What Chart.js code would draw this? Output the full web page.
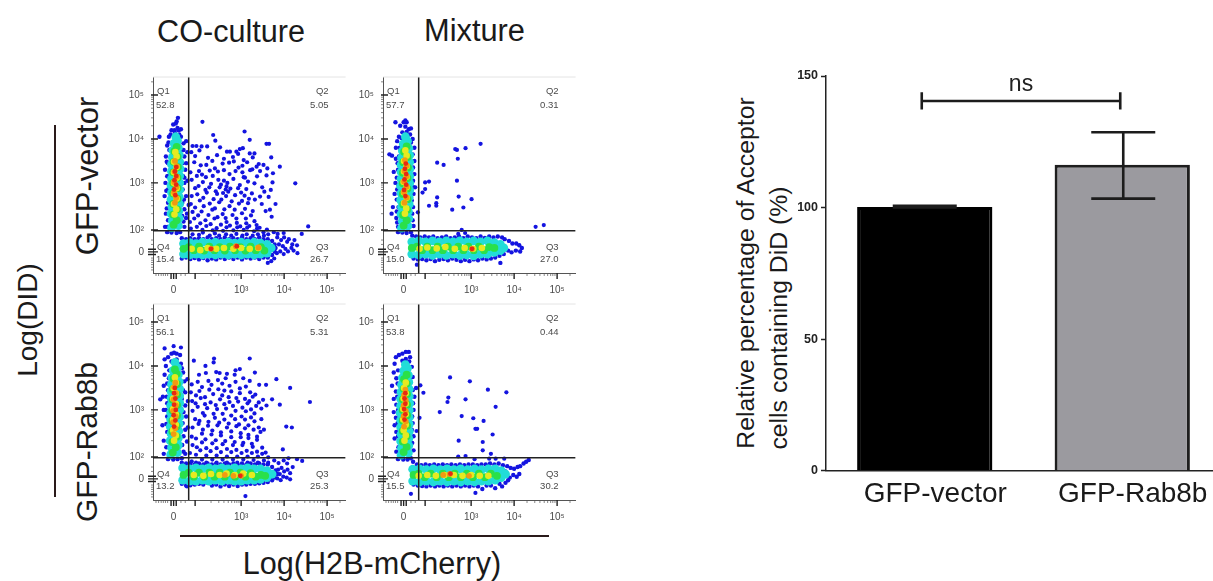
<!DOCTYPE html>
<html><head><meta charset="utf-8">
<script src="https://cdn.jsdelivr.net/npm/chart.js@4"></script>
<style>
html,body{margin:0;padding:0;background:#fff;width:1213px;height:581px;overflow:hidden;position:relative;font-family:"Liberation Sans",Arial,sans-serif;color:#1a1a1a}
canvas{position:absolute;display:block;filter:blur(.45px)}
.t{position:absolute;white-space:nowrap;line-height:1;transform:translate(-50%,-50%)}
.r{transform:translate(-50%,-50%) rotate(-90deg)}
.l{position:absolute;background:#2a1a1a}
</style></head><body>
<div class="t" style="left:231px;top:31px;font-size:30.6px">CO-culture</div>
<div class="t" style="left:474.5px;top:31px;font-size:30.8px">Mixture</div>
<div class="t r" style="left:87px;top:176px;font-size:31px">GFP-vector</div>
<div class="t r" style="left:87px;top:442px;font-size:30px">GFP-Rab8b</div>
<div class="t r" style="left:28px;top:320px;font-size:28px">Log(DID)</div>
<div class="t" style="left:372px;top:563px;font-size:30.6px">Log(H2B-mCherry)</div>
<div class="t r" style="left:746px;top:273px;font-size:24.8px">Relative percentage of Acceptor</div>
<div class="t r" style="left:779px;top:318px;font-size:24.8px">cells containing DiD (%)</div>
<div class="l" style="left:54px;top:125px;width:2px;height:372px"></div>
<div class="l" style="left:180px;top:535px;width:369px;height:2px"></div>
<canvas id="c1" style="left:120px;top:70px"></canvas>
<canvas id="c2" style="left:350px;top:70px"></canvas>
<canvas id="c3" style="left:120px;top:297px"></canvas>
<canvas id="c4" style="left:350px;top:297px"></canvas>
<canvas id="bar" style="left:730px;top:60px"></canvas>
<script>
// ---- flow axes (log-decade display units; 0 sits at 1.43)
const flowTicks=[1.43,1.93,3,4,5];
const flowXLabels=['0','','10³','10⁴','10⁵'];
const flowYLabels=['0','10²','10³','10⁴','10⁵'];
const flowMin=0.95, flowMaxX=5.43, flowMaxY=5.41;
const gateX=1.78, gateY=1.91;
const minorTicks=[2.3,2.48,2.6,2.7,2.78,2.85,2.9,2.95,3.3,3.48,3.6,3.7,3.78,3.85,3.9,3.95,4.3,4.48,4.6,4.7,4.78,4.85,4.9,4.95,5.3];
const zeroTicks=[1.02,1.08,1.14,1.19,1.24,1.29,1.6,1.7];
const thickTicks=[1.37,1.43,1.49];
// ---- gate statistics
const stats1=['52.8','5.05','26.7','15.4'], stats2=['57.7','0.31','27.0','15.0'], stats3=['56.1','5.31','25.3','13.2'], stats4=['53.8','0.44','30.2','15.5'];

// ---- plot 1
const p1Sparse=[[2.1,4.39],[2.35,4.09],[2.4,3.96],[3.08,4.17],[3.2,3.98],[3.59,3.89],[3.65,3.89],[1.87,3.84],[1.96,3.84],[2.08,3.83],[2.21,3.83],[2.51,3.81],[3.04,3.79],[2.97,3.77],[2.89,3.71],[2.67,3.71],[2.74,3.71],[3.2,3.67],[3.31,3.67],[3.7,3.58],[3.9,3.37],[4.26,2.99],[4.56,2.01],[4.41,1.84],
[1.84,3.7],[1.93,3.61],[2.03,3.74],[2.23,3.57],[2.44,3.63],[2.6,3.55],[2.81,3.59],[2.93,3.66],[3.06,3.52],[3.27,3.58],[3.41,3.43],[3.52,3.41],[3.61,3.33],
[1.91,3.47],[2.06,3.4],[2.19,3.41],[2.33,3.5],[2.39,3.33],[2.57,3.44],[2.72,3.46],[2.83,3.49],[2.94,3.35],[3.03,3.39],[3.14,3.47],[3.26,3.31],[3.36,3.37],[3.59,3.17],[3.74,3.22],
[1.82,3.24],[2.02,3.27],[2.09,3.19],[2.27,3.28],[2.34,3.16],[2.46,3.26],[2.6,3.29],[2.73,3.2],[2.87,3.27],[3.03,3.24],[3.09,3.12],[3.21,3.29],[3.37,3.15],[3.44,3.27],
[1.85,3.07],[1.97,3.16],[2.11,3.02],[2.18,3.13],[2.3,2.98],[2.47,3.07],[2.53,2.96],[2.6,3.05],[2.66,2.92],[2.68,3.0],[2.82,3.09],[2.97,2.95],[3.06,3.13],[3.16,3.03],[3.31,2.99],[3.49,2.9],[3.73,3.01],
[1.93,2.88],[2.01,2.93],[2.17,2.84],[2.26,2.9],[2.41,2.81],[2.5,2.9],[2.58,2.77],[2.64,2.85],[2.7,2.8],[2.75,2.87],[2.93,2.88],[3.0,2.78],[3.12,2.86],[3.25,2.76],[3.44,2.69],[3.54,2.8],[3.69,2.84],
[1.85,2.7],[1.98,2.74],[2.12,2.66],[2.2,2.78],[2.36,2.63],[2.44,2.75],[2.54,2.62],[2.65,2.7],[2.78,2.58],[2.86,2.72],[3.02,2.59],[3.08,2.71],[3.18,2.64],[3.32,2.62],[3.48,2.52],[3.64,2.68],[3.8,2.52],
[1.83,2.52],[1.93,2.44],[2.04,2.6],[2.13,2.47],[2.27,2.53],[2.39,2.42],[2.49,2.56],[2.61,2.4],[2.73,2.47],[2.85,2.39],[2.95,2.53],[3.09,2.41],[3.16,2.54],[3.27,2.36],[3.57,2.36],[3.67,2.39],[3.71,2.23],
[1.87,2.34],[2,2.26],[2.08,2.35],[2.24,2.27],[2.33,2.39],[2.45,2.22],[2.57,2.29],[2.64,2.2],[2.8,2.27],[2.89,2.19],[3.02,2.31],[3.11,2.19],[3.23,2.26],[3.31,2.13],
[1.81,2.11],[1.91,2.19],[2.05,2.08],[2.17,2.15],[2.29,2.06],[2.38,2.19],[2.53,2.05],[2.66,2.11],[2.74,2.03],[2.9,2.09],[2.98,2.01],[3.12,2.08],[3.19,2.02],[3.36,2.04],[3.43,1.98],
[1.83,1.96],[1.97,2],[2.1,1.93],[2.19,2.02],[2.34,1.92],[2.43,1.97],[2.58,1.91],[2.66,1.99],[2.82,1.92],[2.91,1.99],[3.06,1.93],[3.14,1.98],[3.3,1.9],[3.37,1.96],[3.52,1.88],[3.6,1.94],[3.76,1.88],[3.85,1.84],[3.99,1.86],
[1.87,1.83],[2.02,1.82],[2.11,1.87],[2.27,1.8],[2.39,1.85],[2.49,1.8],[2.65,1.83],[2.77,1.8],[2.89,1.84],[3.03,1.8],[3.13,1.83],[3.27,1.8],[3.39,1.83],[3.53,1.8],[3.63,1.83],
[3.84,1.76],[3.93,1.7],[4,1.76],[4.07,1.66],[4.11,1.72],[4.19,1.6],[4.24,1.7],[4.3,1.58],[3.88,1.6],[3.97,1.56],[4.03,1.5],[4.09,1.44],[4.17,1.52],[4.22,1.46],[4.31,1.4],[3.91,1.44],[3.83,1.4],[3.99,1.38],[3.77,1.28],[3.7,1.22],[3.62,1.18]];
const p1Blue=[[1.23,2],[1.25,2.3],[1.22,2.7],[1.24,3],[1.23,3.3],[1.25,3.6],[1.28,3.85],[1.32,4.05],[1.38,4.2],[1.45,4.2],[1.52,4.25],[1.55,4.2],[1.6,4.05],[1.66,3.9],[1.68,3.6],[1.7,3.3],[1.68,3],[1.72,2.7],[1.68,2.4],[1.72,2.2],[1.68,2],[1.28,1.88],[1.38,1.87],[1.5,1.86],[1.58,1.88],[1.1,4.05],[1.42,4.33],[1.5,4.4],[1.53,4.48],[1.48,4.35],[1.6,4.22],[1.3,2.55],[1.3,2.85],[1.3,3.15],[1.3,3.45],[1.33,3.75],[1.3,2.15],[1.63,2.25],[1.63,2.55],[1.64,2.85],[1.65,3.15],[1.63,3.45],[1.6,3.75],[1.72,3.95],[1.75,3.7],[1.78,2.5],[1.75,3.05],[1.72,3.45],[1.74,2.3],[1.27,2.42],[1.26,2.82],[1.28,3.15],[1.27,3.48],[1.31,3.92],[1.66,2.12],[1.67,2.62],[1.68,3.12],[1.66,3.75],[1.36,4.1],[1.46,4.14],[1.56,4.1],[1.29,2],
[1.62,1.74],[1.72,1.72],[1.82,1.74],[1.92,1.72],[2.02,1.74],[2.12,1.72],[2.22,1.76],[2.32,1.72],[2.42,1.74],[2.52,1.72],[2.62,1.76],[2.72,1.72],[2.82,1.74],[2.92,1.72],[3.02,1.76],[3.12,1.72],[3.22,1.74],[3.32,1.72],[3.42,1.76],[3.52,1.72],[3.62,1.72],[3.72,1.68],[3.78,1.6],
[1.62,1.28],[1.72,1.3],[1.82,1.27],[1.92,1.29],[2.02,1.26],[2.12,1.29],[2.22,1.24],[2.32,1.28],[2.42,1.26],[2.52,1.3],[2.62,1.27],[2.72,1.3],[2.82,1.27],[2.92,1.3],[3.02,1.26],[3.12,1.3],[3.22,1.28],[3.32,1.3],[3.42,1.27],[3.52,1.3],[3.62,1.3],[3.72,1.36],[3.78,1.44],[1.62,1.5],[3.8,1.52]];
const p1Cyan=[[1.38,1.98],[1.54,2.03],[1.4,2.14],[1.56,2.2],[1.37,2.3],[1.55,2.36],[1.39,2.46],[1.57,2.52],[1.37,2.62],[1.56,2.68],[1.38,2.78],[1.57,2.84],[1.37,2.94],[1.57,3],[1.38,3.1],[1.57,3.16],[1.38,3.26],[1.58,3.32],[1.38,3.42],[1.57,3.48],[1.4,3.58],[1.56,3.64],[1.41,3.74],[1.54,3.8],[1.44,3.9],[1.52,3.96],[1.48,4.05],
[1.66,1.62],[1.8,1.64],[1.95,1.62],[2.1,1.65],[2.25,1.63],[2.4,1.65],[2.55,1.63],[2.7,1.65],[2.85,1.63],[3,1.65],[3.15,1.63],[3.3,1.65],[3.45,1.63],[3.6,1.6],[3.7,1.52],
[1.66,1.38],[1.8,1.36],[1.95,1.38],[2.1,1.36],[2.25,1.38],[2.4,1.36],[2.55,1.38],[2.7,1.36],[2.85,1.38],[3,1.36],[3.15,1.38],[3.3,1.36],[3.45,1.38],[3.6,1.4],[3.65,1.5]];
const p1Green=[[1.43,2.05],[1.5,2.15],[1.42,2.28],[1.51,2.4],[1.42,2.52],[1.52,2.64],[1.42,2.76],[1.52,2.88],[1.42,3],[1.52,3.12],[1.42,3.24],[1.53,3.36],[1.43,3.48],[1.52,3.6],[1.45,3.72],[1.5,3.82],
[1.66,1.5],[1.78,1.54],[1.9,1.47],[2.02,1.55],[2.14,1.46],[2.26,1.55],[2.38,1.47],[2.5,1.54],[2.62,1.46],[2.74,1.55],[2.86,1.47],[2.98,1.54],[3.1,1.46],[3.22,1.55],[3.34,1.47],[3.46,1.54],[3.54,1.46]];
const p1Yellow=[[1.45,2.28],[1.49,2.4],[1.44,2.52],[1.5,2.64],[1.44,2.76],[1.5,2.88],[1.44,3],[1.5,3.12],[1.44,3.24],[1.5,3.36],[1.44,3.48],[1.5,3.6],[1.47,3.7],
[1.85,1.5],[2.05,1.47],[2.22,1.52],[2.42,1.5],[2.6,1.52],[2.82,1.5],[3.0,1.52],[3.2,1.5],[3.4,1.52]];
const p1Orange=[[1.46,2.55],[1.49,2.66],[1.44,2.78],[1.49,2.9],[1.44,3.02],[1.5,3.14],[1.45,3.26],[1.5,3.38],[1.46,3.5],[2.3,1.5],[2.88,1.56],[3.4,1.53]];
const p1Red=[[1.47,2.72],[1.44,2.85],[1.49,2.96],[1.45,3.06],[1.49,3.16],[1.46,3.26],[1.49,3.36],[2.3,1.5],[2.9,1.56]];
// ---- plot 2
const p2Sparse=[[2.63,3.77],[2.67,3.75],[2.87,3.79],[3.22,3.89],[2.69,3.55],[2.21,3.46],[2.36,3.41],[2.67,3.05],[1.93,3.01],[2.02,3.03],[1.93,2.86],[1.87,2.78],[1.7,2.9],[2.21,2.67],[2.71,2.69],[3.01,2.63],[2.02,2.48],[2.19,2.54],[2.19,2.48],[2.82,2.44],[2.56,2.39],[1.76,2.33],[4.5,2],[4.69,2.04],[2.78,1.93],[2.7,1.84],[2.86,1.86]];
const p2Blue=[[1.24,4.38],[1.43,4.38],[1.47,4.42],[1.5,4.38],[1.35,4.3],[1.55,4.22],[1.6,4.24],[1.47,4.28],[1.4,4.15],[1.32,4.05],[1.58,4.1],[1.64,4],[1.1,3.65],[1.16,3.62],[1.25,3.8],[1.28,3.95],[1.25,3.55],[1.2,3.25],[1.24,3.0],[1.22,2.75],[1.18,2.45],[1.15,2.3],[1.27,2.62],[1.26,2.2],[1.3,2],[1.3,1.88],[1.4,1.87],[1.5,1.86],[1.6,1.88],[1.66,2.02],[1.63,2.3],[1.62,2.6],[1.66,2.9],[1.68,3.2],[1.68,3.5],[1.68,3.8],[1.32,3.6],[1.3,3.3],[1.31,2.95],[1.31,2.45],[1.28,2.1],[1.27,2.35],[1.28,2.85],[1.27,3.12],[1.29,3.45],[1.34,3.8],[1.38,4.02],[1.5,4.16],[1.64,2.15],[1.65,2.45],[1.66,2.75],[1.65,3.05],[1.65,3.35],[1.64,3.65],[1.6,3.92],
[1.63,1.8],[1.72,1.78],[1.82,1.76],[1.92,1.78],[2.02,1.76],[2.12,1.78],[2.22,1.74],[2.32,1.76],[2.42,1.78],[2.52,1.74],[2.62,1.76],[2.72,1.78],[2.82,1.74],[2.92,1.78],[3.02,1.76],[3.12,1.74],[3.22,1.78],[3.32,1.75],[3.42,1.78],[3.52,1.76],[3.62,1.78],[3.72,1.76],[3.78,1.72],[3.88,1.68],[3.96,1.62],[4.05,1.62],[4.12,1.58],[4.18,1.52],[4.14,1.44],[4.04,1.46],[3.94,1.42],[3.86,1.46],
[1.66,1.28],[1.76,1.26],[1.86,1.27],[1.96,1.24],[2.06,1.27],[2.16,1.22],[2.26,1.25],[2.36,1.27],[2.46,1.24],[2.56,1.28],[2.66,1.25],[2.76,1.22],[2.86,1.25],[2.96,1.22],[3.06,1.26],[3.16,1.24],[3.26,1.28],[3.36,1.26],[3.46,1.28],[3.56,1.3],[3.66,1.34],[3.76,1.38],[1.74,1.14],[3.68,1.18]];
const p2Cyan=[[1.38,1.97],[1.53,2.02],[1.4,2.13],[1.55,2.19],[1.37,2.29],[1.54,2.35],[1.38,2.45],[1.56,2.51],[1.36,2.61],[1.56,2.67],[1.37,2.77],[1.57,2.83],[1.36,2.93],[1.57,2.99],[1.37,3.09],[1.57,3.15],[1.37,3.25],[1.57,3.31],[1.37,3.41],[1.57,3.47],[1.38,3.57],[1.57,3.63],[1.4,3.73],[1.55,3.79],[1.42,3.89],[1.52,3.95],[1.47,4.05],
[1.62,1.66],[1.78,1.68],[1.94,1.66],[2.1,1.68],[2.26,1.66],[2.42,1.68],[2.58,1.66],[2.74,1.68],[2.9,1.66],[3.06,1.68],[3.22,1.66],[3.38,1.68],[3.54,1.64],[3.68,1.6],[3.76,1.52],
[1.62,1.38],[1.78,1.36],[1.94,1.38],[2.1,1.35],[2.26,1.38],[2.42,1.35],[2.58,1.38],[2.74,1.35],[2.9,1.36],[3.06,1.34],[3.22,1.38],[3.38,1.38],[3.54,1.42],[3.68,1.46]];
const p2Green=[[1.43,2.03],[1.5,2.15],[1.42,2.27],[1.51,2.39],[1.42,2.51],[1.52,2.63],[1.41,2.75],[1.52,2.87],[1.41,2.99],[1.52,3.11],[1.41,3.23],[1.53,3.35],[1.42,3.47],[1.52,3.59],[1.44,3.71],[1.5,3.83],
[1.62,1.52],[1.74,1.55],[1.86,1.47],[1.98,1.55],[2.1,1.47],[2.22,1.55],[2.34,1.47],[2.46,1.55],[2.58,1.47],[2.7,1.55],[2.82,1.47],[2.94,1.55],[3.06,1.47],[3.18,1.55],[3.3,1.47],[3.42,1.54],[3.54,1.52]];
const p2Yellow=[[1.46,2.3],[1.49,2.42],[1.44,2.54],[1.5,2.66],[1.44,2.78],[1.5,2.9],[1.43,3.02],[1.5,3.14],[1.44,3.26],[1.5,3.38],[1.44,3.5],[1.5,3.62],[1.47,3.74],
[1.8,1.5],[1.98,1.53],[2.2,1.51],[2.4,1.54],[2.62,1.5],[2.85,1.52],[3.05,1.5],[3.25,1.52]];
const p2Orange=[[1.45,2.55],[1.5,2.67],[1.44,2.79],[1.5,2.91],[1.44,3.03],[1.5,3.15],[1.45,3.27],[1.5,3.39],[1.46,3.52],[3.02,1.5]];
const p2Red=[[1.47,2.7],[1.44,2.84],[1.49,2.96],[1.45,3.08],[1.49,3.2],[1.46,3.32],[1.48,3.44],[3.02,1.5]];
// ---- plot 3
const p3Sparse=[[1.22,4.4],[1.43,4.45],[1.6,4.42],[1.9,4.12],[2.17,4],[2.37,4.17],[2.36,4.08],[3.2,4.17],[2.87,3.9],[2.97,3.93],[3.32,3.85],[2.02,3.8],[2.18,3.84],[2.42,3.86],[2.5,3.84],[2.67,3.82],[2.85,3.8],[3.05,3.72],[3.2,3.66],[3.42,3.57],[3.58,3.57],[3.82,3.7],[4.14,3.5],[4.6,3.18],[3.72,3.24],[3.9,3.12],[4.05,2.62],[4.18,2.6],[3.97,2.1],[4.42,1.84],[4.3,1.88],[4.1,1.9],
[1.85,3.58],[1.99,3.64],[2.09,3.52],[2.24,3.66],[2.31,3.57],[2.46,3.68],[2.56,3.6],[2.64,3.72],[2.73,3.55],[2.87,3.64],[2.97,3.49],[3.11,3.53],[3.21,3.4],[3.33,3.35],[3.51,3.23],
[1.83,3.4],[1.95,3.33],[2.03,3.43],[2.16,3.29],[2.26,3.46],[2.35,3.36],[2.47,3.47],[2.56,3.33],[2.61,3.44],[2.71,3.29],[2.77,3.42],[2.89,3.27],[2.97,3.38],[3.09,3.25],[3.19,3.2],[3.27,3.3],[3.41,3.17],[3.47,3.03],[3.59,3.1],
[1.86,3.2],[1.94,3.15],[2.06,3.27],[2.16,3.13],[2.29,3.17],[2.41,3.11],[2.51,3.24],[2.61,3.13],[2.73,3.18],[2.81,3.09],[2.93,3.19],[3.03,3.05],[3.15,3.15],[3.23,3.01],[3.35,3.09],
[1.87,2.98],[1.99,3.07],[2.11,2.93],[2.21,3.04],[2.36,2.91],[2.44,3.02],[2.57,2.91],[2.65,3.03],[2.77,2.87],[2.87,2.98],[3.01,2.85],[3.11,2.97],[3.23,2.83],[3.31,2.92],[3.47,2.79],
[1.93,2.79],[2.03,2.75],[2.15,2.87],[2.24,2.73],[2.39,2.82],[2.49,2.71],[2.61,2.78],[2.71,2.69],[2.86,2.79],[2.95,2.67],[3.09,2.78],[3.17,2.65],[3.31,2.74],[3.41,2.6],[3.53,2.55],
[1.87,2.6],[2.01,2.68],[2.11,2.55],[2.23,2.64],[2.33,2.53],[2.45,2.65],[2.53,2.49],[2.67,2.6],[2.77,2.51],[2.89,2.63],[2.99,2.47],[3.09,2.58],[3.17,2.43],[3.29,2.55],[3.37,2.39],[3.45,2.5],
[1.85,2.39],[1.95,2.35],[2.09,2.46],[2.17,2.33],[2.31,2.44],[2.41,2.31],[2.53,2.42],[2.63,2.29],[2.77,2.38],[2.85,2.27],[2.99,2.38],[3.05,2.25],[3.17,2.36],[3.25,2.23],[3.37,2.32],
[1.87,2.2],[1.97,2.15],[2.09,2.26],[2.19,2.13],[2.33,2.24],[2.43,2.13],[2.57,2.22],[2.67,2.11],[2.81,2.2],[2.89,2.09],[3.03,2.2],[3.13,2.07],[3.27,2.16],[3.37,2.05],[3.49,2.14],[3.57,2.03],
[1.81,2.02],[1.95,1.98],[2.05,2.08],[2.19,1.96],[2.29,2.06],[2.43,1.96],[2.53,2.04],[2.67,1.94],[2.77,2.04],[2.91,1.94],[3.01,2.02],[3.15,1.94],[3.25,2.02],[3.39,1.94],[3.49,2],[3.63,1.92],
[1.85,1.83],[1.95,1.8],[2.09,1.87],[2.19,1.8],[2.33,1.87],[2.43,1.8],[2.57,1.87],[2.67,1.8],[2.81,1.87],[2.91,1.8],[3.05,1.87],[3.15,1.8],[3.29,1.86],[3.39,1.8],[3.53,1.85],[3.63,1.8],[3.77,1.85],[3.87,1.79],[3.99,1.85],[4.07,1.78],
[3.86,1.64],[3.94,1.68],[4,1.6],[4.08,1.64],[4.14,1.56],[4.2,1.7],[3.9,1.54],[3.98,1.48],[4.06,1.46],[4.14,1.42],[3.84,1.44],[3.92,1.4],[3.1,1.04],[1.74,1.26],[1.82,1.28]];
const p3Blue=[[1.2,2],[1.2,2.3],[1.17,2.65],[1.2,3],[1.18,3.3],[1.12,3.24],[1.2,3.55],[1.22,3.8],[1.25,4.0],[1.22,4.15],[1.3,4.2],[1.38,4.28],[1.44,4.3],[1.5,4.28],[1.58,4.25],[1.6,4.05],[1.65,3.85],[1.68,3.65],[1.7,3.4],[1.7,3.1],[1.72,2.85],[1.7,2.55],[1.74,2.28],[1.7,2],[1.3,1.88],[1.42,1.87],[1.52,1.88],[1.62,1.9],[1.28,2.5],[1.28,2.85],[1.28,3.15],[1.3,3.45],[1.32,3.72],[1.63,2.2],[1.64,2.7],[1.62,3.25],[1.6,3.65],[1.75,3.7],[1.76,3.2],[1.76,2.6],[1.26,2.15],[1.26,2.68],[1.25,3],[1.27,3.3],[1.28,3.6],[1.33,3.9],[1.38,4.1],[1.5,4.15],[1.62,3.95],[1.65,3.45],[1.66,2.95],[1.66,2.4],[1.66,2.05],
[1.62,1.8],[1.72,1.78],[1.82,1.78],[1.92,1.76],[2.02,1.78],[2.12,1.76],[2.22,1.78],[2.32,1.76],[2.42,1.78],[2.52,1.76],[2.62,1.78],[2.72,1.76],[2.82,1.78],[2.92,1.76],[3.02,1.78],[3.12,1.76],[3.22,1.78],[3.32,1.76],[3.42,1.78],[3.52,1.76],[3.62,1.76],[3.72,1.7],[3.8,1.62],[3.84,1.54],
[1.62,1.32],[1.72,1.28],[1.82,1.3],[1.92,1.3],[2.02,1.32],[2.12,1.3],[2.22,1.34],[2.32,1.28],[2.42,1.3],[2.52,1.26],[2.62,1.3],[2.72,1.27],[2.82,1.3],[2.92,1.27],[3.02,1.3],[3.12,1.3],[3.22,1.32],[3.32,1.32],[3.42,1.33],[3.52,1.34],[3.62,1.36],[3.72,1.4],[3.78,1.46]];
const p3Cyan=[[1.36,1.98],[1.52,2.03],[1.38,2.14],[1.54,2.2],[1.35,2.3],[1.54,2.36],[1.37,2.46],[1.55,2.52],[1.35,2.62],[1.56,2.68],[1.36,2.78],[1.57,2.84],[1.36,2.94],[1.57,3],[1.36,3.1],[1.57,3.16],[1.37,3.26],[1.57,3.32],[1.37,3.42],[1.57,3.48],[1.38,3.58],[1.56,3.64],[1.39,3.74],[1.54,3.8],[1.42,3.9],[1.52,3.96],[1.46,4.08],
[1.64,1.68],[1.8,1.66],[1.95,1.68],[2.1,1.66],[2.25,1.68],[2.4,1.66],[2.55,1.68],[2.7,1.66],[2.85,1.68],[3,1.66],[3.15,1.68],[3.3,1.66],[3.45,1.66],[3.6,1.62],[3.72,1.54],
[1.64,1.4],[1.8,1.38],[1.95,1.38],[2.1,1.4],[2.25,1.38],[2.4,1.4],[2.55,1.38],[2.7,1.4],[2.85,1.38],[3,1.38],[3.15,1.4],[3.3,1.4],[3.45,1.42],[3.6,1.46]];
const p3Green=[[1.41,2.03],[1.48,2.15],[1.4,2.27],[1.5,2.39],[1.4,2.51],[1.5,2.63],[1.4,2.75],[1.51,2.87],[1.4,2.99],[1.51,3.11],[1.41,3.23],[1.51,3.35],[1.41,3.47],[1.51,3.59],[1.43,3.71],[1.5,3.82],[1.46,3.92],
[1.66,1.52],[1.78,1.57],[1.9,1.48],[2.02,1.57],[2.14,1.48],[2.26,1.57],[2.38,1.48],[2.5,1.57],[2.62,1.48],[2.74,1.57],[2.86,1.48],[2.98,1.57],[3.1,1.48],[3.22,1.56],[3.34,1.48],[3.46,1.52],[3.56,1.5]];
const p3Yellow=[[1.44,2.3],[1.48,2.42],[1.42,2.54],[1.48,2.66],[1.42,2.78],[1.48,2.9],[1.42,3.02],[1.48,3.14],[1.42,3.26],[1.48,3.38],[1.43,3.5],[1.48,3.62],[1.46,3.74],
[1.9,1.52],[2.12,1.5],[2.3,1.54],[2.5,1.52],[2.66,1.55],[2.85,1.52],[3.05,1.55],[3.25,1.52]];
const p3Orange=[[1.43,2.45],[1.47,2.58],[1.42,2.72],[1.48,2.85],[1.42,2.98],[1.48,3.1],[1.43,3.24],[1.48,3.38],[1.44,3.52],[1.47,3.62],[2.62,1.52],[2.82,1.5],[3.0,1.5]];
const p3Red=[[1.44,2.62],[1.47,2.76],[1.43,2.88],[1.48,3.0],[1.44,3.12],[1.47,3.26],[1.44,3.38],[1.46,3.5],[2.98,1.5]];
// ---- plot 4
const p4Sparse=[[2.51,3.74],[2.97,3.65],[3.39,3.46],[3.82,3.4],[1.89,3.39],[2.47,3.28],[2.45,3.18],[2.87,3.24],[3.57,3.07],[2.27,2.95],[2.78,2.86],[3.05,2.81],[3.29,2.75],[3.1,2.57],[3.14,2.57],[3.5,2.44],[2.71,2.3],[3.27,2.27],[3.27,2.08],[3.46,2],[1.73,2.52],[1.8,2.82],[1.82,3.56],[2.7,1.94],[2.87,1.95],[3.08,1.88],[3.42,1.89],[3.57,1.89],[3.77,1.89],[1.6,1.09],[3.1,1.11]];
const p4Blue=[[1.25,4.2],[1.32,4.25],[1.4,4.28],[1.48,4.32],[1.55,4.32],[1.58,4.2],[1.22,4.05],[1.2,3.85],[1.16,3.55],[1.2,3.25],[1.2,2.95],[1.22,2.65],[1.22,2.35],[1.26,2.05],[1.3,1.88],[1.42,1.87],[1.52,1.87],[1.6,1.9],[1.66,2.08],[1.66,2.4],[1.64,2.7],[1.66,3.0],[1.68,3.3],[1.72,3.5],[1.64,3.75],[1.62,3.98],[1.3,3.9],[1.29,3.6],[1.28,3.3],[1.3,3],[1.29,2.7],[1.3,2.4],[1.31,2.15],[1.56,4.1],[1.4,4.12],[1.26,2.5],[1.25,2.82],[1.26,3.12],[1.25,3.42],[1.26,3.72],[1.63,2.25],[1.62,2.55],[1.63,2.85],[1.65,3.15],[1.64,3.45],[1.48,4.16],
[1.65,1.82],[1.74,1.76],[1.84,1.74],[1.94,1.76],[2.04,1.74],[2.14,1.76],[2.24,1.74],[2.34,1.76],[2.44,1.74],[2.54,1.76],[2.64,1.74],[2.74,1.76],[2.84,1.74],[2.94,1.76],[3.04,1.76],[3.14,1.74],[3.24,1.76],[3.34,1.76],[3.44,1.78],[3.54,1.76],[3.64,1.78],[3.74,1.74],[3.84,1.72],[3.92,1.68],[4,1.66],[4.08,1.7],[4.14,1.72],[4.22,1.78],[4.28,1.82],[4.34,1.86],[3.9,1.46],[3.98,1.52],[4.06,1.48],[4.12,1.54],[3.86,1.4],[3.8,1.34],[3.72,1.26],
[1.66,1.3],[1.76,1.28],[1.86,1.27],[1.96,1.26],[2.06,1.28],[2.16,1.26],[2.26,1.28],[2.36,1.26],[2.46,1.28],[2.56,1.26],[2.66,1.28],[2.76,1.26],[2.86,1.28],[2.96,1.26],[3.06,1.28],[3.16,1.26],[3.26,1.2],[3.36,1.28],[3.46,1.28],[3.56,1.22],[3.66,1.32],[3.8,1.6]];
const p4Cyan=[[1.37,1.97],[1.54,2.02],[1.38,2.13],[1.55,2.19],[1.36,2.29],[1.55,2.35],[1.37,2.45],[1.56,2.51],[1.36,2.61],[1.56,2.67],[1.36,2.77],[1.56,2.83],[1.35,2.93],[1.56,2.99],[1.36,3.09],[1.57,3.15],[1.36,3.25],[1.56,3.31],[1.37,3.41],[1.56,3.47],[1.38,3.57],[1.55,3.63],[1.4,3.73],[1.54,3.79],[1.43,3.89],[1.52,3.95],[1.47,4.03],
[1.64,1.65],[1.8,1.66],[1.96,1.64],[2.12,1.66],[2.28,1.64],[2.44,1.66],[2.6,1.64],[2.76,1.66],[2.92,1.64],[3.08,1.66],[3.24,1.64],[3.4,1.66],[3.56,1.66],[3.7,1.62],[3.8,1.54],
[1.64,1.38],[1.8,1.36],[1.96,1.38],[2.12,1.36],[2.28,1.38],[2.44,1.36],[2.6,1.38],[2.76,1.36],[2.92,1.38],[3.08,1.36],[3.24,1.38],[3.4,1.38],[3.56,1.4],[3.7,1.46]];
const p4Green=[[1.43,2.04],[1.5,2.16],[1.41,2.28],[1.5,2.4],[1.41,2.52],[1.51,2.64],[1.41,2.76],[1.51,2.88],[1.41,3],[1.51,3.12],[1.41,3.24],[1.51,3.36],[1.43,3.48],[1.5,3.6],[1.44,3.7],[1.5,3.8],
[1.66,1.52],[1.78,1.55],[1.92,1.47],[2.06,1.55],[2.2,1.47],[2.34,1.55],[2.48,1.47],[2.62,1.55],[2.76,1.47],[2.9,1.55],[3.04,1.47],[3.18,1.55],[3.32,1.47],[3.46,1.55],[3.6,1.5]];
const p4Yellow=[[1.45,2.3],[1.48,2.42],[1.43,2.54],[1.48,2.66],[1.42,2.78],[1.48,2.9],[1.42,3.02],[1.48,3.14],[1.43,3.26],[1.48,3.38],[1.44,3.5],[1.48,3.62],
[1.78,1.5],[1.98,1.52],[2.18,1.5],[2.38,1.52],[2.6,1.52],[2.8,1.5],[3,1.52],[3.2,1.5],[3.4,1.5]];
const p4Orange=[[1.44,2.62],[1.48,2.74],[1.43,2.86],[1.48,2.98],[1.43,3.1],[1.48,3.22],[1.44,3.34],[1.47,3.46],[2.35,1.52],[2.5,1.54],[2.95,1.5]];
const p4Red=[[1.45,2.78],[1.47,2.9],[1.44,3.02],[1.47,3.14],[1.45,3.26],[1.47,3.38],[2.52,1.55]];

// ---- bar panel
const barCategories=['GFP-vector','GFP-Rab8b'];
const barValues=[100.2,116.3];
const barErrLow=[100,103.4];
const barErrHigh=[100.7,128.6];
const bracketValue=140.5, bracketCapLow=137.3, bracketCapHigh=143.8;

Chart.defaults.font.family='"Liberation Sans",Arial,sans-serif';
const layerColors=['#e62a12','#f29a12','#e6ea20','#2ae04a','#22dcd8','#1414e0','#1414e0'];
const layerRadius=[2.4,2.9,3.3,3.9,4.4,2.2,2.1];

const flowPlugin={id:'flow',afterDatasetsDraw(c,_,o){
  const g=c.ctx,x=c.scales.x,y=c.scales.y,A=c.chartArea;
  g.save();
  g.strokeStyle='#e4e4e4';g.lineWidth=1;g.beginPath();g.moveTo(A.left,A.top);g.lineTo(A.right,A.top);g.stroke();
  g.strokeStyle='#555';g.lineWidth=.7;g.beginPath();
  for(const v of minorTicks.concat(zeroTicks)){
    const px=x.getPixelForValue(v),py=y.getPixelForValue(v);
    g.moveTo(px,A.bottom);g.lineTo(px,A.bottom+3);
    g.moveTo(A.left-2,py);g.lineTo(A.left+1,py);
  }
  g.stroke();
  g.strokeStyle='#222';g.lineWidth=1.4;g.beginPath();
  for(const v of flowTicks){
    const px=x.getPixelForValue(v),py=y.getPixelForValue(v);
    g.moveTo(px,A.bottom);g.lineTo(px,A.bottom+6);
    g.moveTo(A.left-2,py);g.lineTo(A.left+5,py);
  }
  for(const v of thickTicks){
    const px=x.getPixelForValue(v),py=y.getPixelForValue(v);
    g.moveTo(px,A.bottom);g.lineTo(px,A.bottom+6);
    g.moveTo(A.left-5,py);g.lineTo(A.left+3,py);
  }
  g.stroke();
  g.fillStyle='#4a4a4a';g.font='9.5px "Liberation Sans"';g.textBaseline='middle';
  const s=o.stats;
  g.textAlign='left';
  g.fillText('Q1',A.left+4,A.top+14);g.fillText(s[0],A.left+3,A.top+28);
  g.fillText('Q4',A.left+4,A.top+170);g.fillText(s[3],A.left+3,A.top+182);
  g.textAlign='right';
  g.fillText('Q2',A.right-17,A.top+14);g.fillText(s[1],A.right-17,A.top+28);
  g.fillText('Q3',A.right-17,A.top+170);g.fillText(s[2],A.right-17,A.top+182);
  g.restore();
}};

function flow(id,layers,stats){
  const el=document.getElementById(id);el.width=230;el.height=230;
  const mk=(d,i)=>({type:'scatter',data:d.map(p=>({x:p[0],y:p[1]})),showLine:false,backgroundColor:layerColors[i],borderWidth:0,pointRadius:layerRadius[i],pointHoverRadius:layerRadius[i]});
  const gate=(d)=>({type:'scatter',data:d,showLine:true,borderColor:'#222',borderWidth:1.5,pointRadius:0,fill:false});
  new Chart(el,{type:'scatter',
    data:{datasets:[gate([{x:gateX,y:flowMin},{x:gateX,y:flowMaxY}]),gate([{x:flowMin,y:gateY},{x:flowMaxX,y:gateY}])].concat(layers.map(mk))},
    options:{responsive:false,animation:false,devicePixelRatio:1,
      layout:{padding:{top:7,right:0,bottom:0,left:0}},
      plugins:{legend:{display:false},tooltip:{enabled:false},flow:{stats}},
      scales:{
        x:{type:'linear',min:flowMin,max:flowMaxX,afterBuildTicks:a=>{a.ticks=flowTicks.map(v=>({value:v}))},afterFit:s=>{s.height=27;s.paddingLeft=0;s.paddingRight=0},
          grid:{display:false,drawTicks:false},border:{display:true,color:'#555',width:1},
          ticks:{padding:11,maxRotation:0,autoSkip:false,color:'#4a4a4a',font:{size:10},callback:v=>flowXLabels[flowTicks.indexOf(v)]}},
        y:{type:'linear',min:flowMin,max:flowMaxY,afterBuildTicks:a=>{a.ticks=flowTicks.map(v=>({value:v}))},afterFit:s=>{s.width=33;s.paddingTop=0;s.paddingBottom=0},
          grid:{display:false,drawTicks:false},border:{display:true,color:'#555',width:1},
          ticks:{padding:9,autoSkip:false,color:'#4a4a4a',font:{size:10},callback:v=>flowYLabels[flowTicks.indexOf(v)]}}
      }},
    plugins:[flowPlugin]});
}
flow('c1',[p1Red,p1Orange,p1Yellow,p1Green,p1Cyan,p1Blue,p1Sparse],stats1);
flow('c2',[p2Red,p2Orange,p2Yellow,p2Green,p2Cyan,p2Blue,p2Sparse],stats2);
flow('c3',[p3Red,p3Orange,p3Yellow,p3Green,p3Cyan,p3Blue,p3Sparse],stats3);
flow('c4',[p4Red,p4Orange,p4Yellow,p4Green,p4Cyan,p4Blue,p4Sparse],stats4);

const barPlugin={id:'barExtras',afterDatasetsDraw(c){
  const g=c.ctx,x=c.scales.x,y=c.scales.y;
  g.save();g.strokeStyle='#1c1c1c';g.lineWidth=2.6;g.lineCap='butt';
  barValues.forEach((_,i)=>{
    const px=x.getPixelForValue(i)+(i?1:0),lo=y.getPixelForValue(barErrLow[i]),hi=y.getPixelForValue(barErrHigh[i]);
    g.beginPath();g.moveTo(px,lo);g.lineTo(px,hi);
    g.moveTo(px-32,hi);g.lineTo(px+32,hi);g.moveTo(px-32,lo);g.lineTo(px+32,lo);g.stroke();
  });
  const a=x.getPixelForValue(0)-3,b=x.getPixelForValue(1)-2,m=y.getPixelForValue(bracketValue),t=y.getPixelForValue(bracketCapHigh),u=y.getPixelForValue(bracketCapLow);
  g.beginPath();g.moveTo(a,m);g.lineTo(b,m);g.moveTo(a,t);g.lineTo(a,u);g.moveTo(b,t);g.lineTo(b,u);g.stroke();
  g.fillStyle='#222';g.font='23px "Liberation Sans"';g.textAlign='center';g.textBaseline='middle';
  g.fillText('ns',(a+b)/2,85-c.canvas.offsetTop);
  g.restore();
}};
const be=document.getElementById('bar');be.width=491;be.height=480;
new Chart(be,{type:'bar',
  data:{labels:barCategories,datasets:[{data:barValues,backgroundColor:['#000','#9b9a9f'],borderColor:['#000','#1e1e1e'],borderWidth:3,barPercentage:.685,categoryPercentage:1}]},
  options:{responsive:false,animation:false,devicePixelRatio:1,
    layout:{padding:{top:16,right:0,bottom:0,left:0}},
    plugins:{legend:{display:false},tooltip:{enabled:false}},
    scales:{
      x:{afterFit:s=>{s.height=69.3},grid:{display:false,drawOnChartArea:false,tickLength:6,tickColor:'#222',tickWidth:1.5,drawTicks:true},border:{color:'#222',width:1.5},
        ticks:{color:'#1a1a1a',font:{size:28},labelOffset:10.5,padding:1,maxRotation:0}},
      y:{min:0,max:150,afterFit:s=>{s.width=96},grid:{drawOnChartArea:false,tickLength:5,tickColor:'#222',tickWidth:1.5},border:{color:'#222',width:1.5},
        ticks:{stepSize:50,color:'#222',font:{size:12.5,weight:'bold'},padding:3}}
    }},
  plugins:[barPlugin]});
</script>
</body></html>
